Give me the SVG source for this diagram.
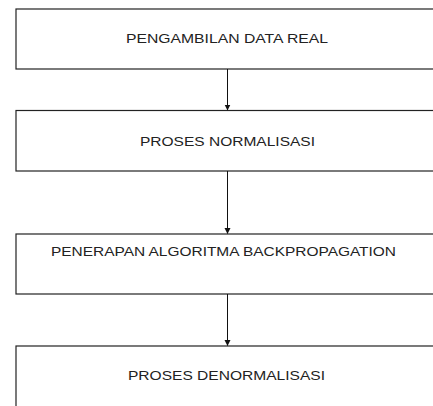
<svg xmlns="http://www.w3.org/2000/svg" width="433" height="406" viewBox="0 0 433 406">
<defs>
<style>
.box{fill:#fff;stroke:#222;stroke-width:1.2}
.lbl{font-family:"Liberation Sans",Arial,sans-serif;font-size:13px;fill:#222;text-anchor:middle}
.con{stroke:#111;stroke-width:1;fill:none}
</style>
<marker id="ah" markerWidth="6" markerHeight="8" refX="5.5" refY="3" orient="auto" markerUnits="userSpaceOnUse" viewBox="0 0 6 6">
<path d="M0,0 L6,3 L0,6 z" fill="#111"/>
</marker>
</defs>
<rect width="433" height="406" fill="#fff"/>
<g id="n1"><rect class="box" x="16" y="9" width="430" height="60"/><text class="lbl" x="227" y="43" textLength="202" lengthAdjust="spacingAndGlyphs">PENGAMBILAN DATA REAL</text></g>
<g id="n2"><rect class="box" x="16" y="110.5" width="430" height="60.5"/><text class="lbl" x="227.5" y="146" textLength="175" lengthAdjust="spacingAndGlyphs">PROSES NORMALISASI</text></g>
<g id="n3"><rect class="box" x="16" y="234" width="430" height="60"/><text class="lbl" x="223.5" y="255.5" textLength="345" lengthAdjust="spacingAndGlyphs">PENERAPAN ALGORITMA BACKPROPAGATION</text></g>
<g id="n4"><rect class="box" x="16" y="346" width="430" height="80"/><text class="lbl" x="226.5" y="379.5" textLength="197" lengthAdjust="spacingAndGlyphs">PROSES DENORMALISASI</text></g>
<g id="connectors">
<line class="con" x1="227.5" y1="69" x2="227.5" y2="110" marker-end="url(#ah)"/>
<line class="con" x1="227.5" y1="171" x2="227.5" y2="233.5" marker-end="url(#ah)"/>
<line class="con" x1="227.5" y1="294" x2="227.5" y2="345.5" marker-end="url(#ah)"/>
</g>
</svg>
